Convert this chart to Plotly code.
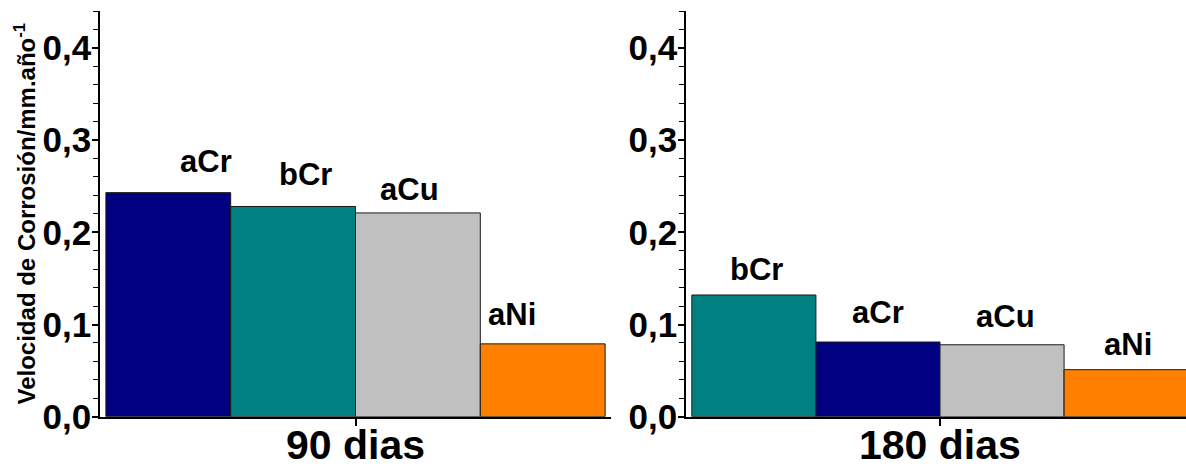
import plotly.graph_objects as go

# Corrosion rate (mm/año) per sample, after each exposure period
samples_90 = ["aCr", "bCr", "aCu", "aNi"]
rate_90 = [0.243, 0.228, 0.221, 0.079]

samples_180 = ["bCr", "aCr", "aCu", "aNi"]
rate_180 = [0.132, 0.081, 0.078, 0.051]

periods = ["90 dias", "180 dias"]
y_ticks = [0.0, 0.1, 0.2, 0.3, 0.4]

colors = {"aCr": "#000080", "bCr": "#008080", "aCu": "#C0C0C0", "aNi": "#FF8000"}

# label anchor points (category offset, value) for each sample name
label_x_90 = [-0.293, -0.098, 0.106, 0.307]
label_y_90 = [0.2765, 0.2624, 0.2461, 0.1104]
label_x_180 = [-0.362, -0.122, 0.128, 0.370]
label_y_180 = [0.1593, 0.1126, 0.1083, 0.0778]

W, H = 1186, 467
FONT = "Liberation Sans, Arial, sans-serif"

fig = go.Figure()

panels = [
    (samples_90, rate_90, periods[0], "x", "y", label_x_90, label_y_90),
    (samples_180, rate_180, periods[1], "x2", "y2", label_x_180, label_y_180),
]

annotations = []
for names, vals, period, xa, ya, lx, ly in panels:
    for i, (name, v) in enumerate(zip(names, vals)):
        fig.add_trace(go.Bar(
            x=[period], y=[v], name=name, xaxis=xa, yaxis=ya,
            marker=dict(color=colors[name], line=dict(color="#1a1a1a", width=1)),
            showlegend=False,
        ))
        annotations.append(dict(
            x=lx[i], y=ly[i], xref=xa, yref=ya, text=name, showarrow=False,
            xanchor="center", yanchor="middle",
            font=dict(family=FONT, size=31, color="black", weight="bold"),
        ))
    # period name under the category tick
    annotations.append(dict(
        x=period, y=(H - 445) / H, xref=xa, yref="paper", text=period,
        showarrow=False, xanchor="center", yanchor="middle",
        font=dict(family=FONT, size=41, color="black", weight="bold"),
    ))

annotations.append(dict(
    x=24 / W, y=(H - 213.5) / H, xref="paper", yref="paper",
    text="Velocidad de Corrosión/mm.año<sup>-1</sup>", textangle=-90,
    showarrow=False, xanchor="center", yanchor="middle",
    font=dict(family=FONT, size=24, color="black", weight="bold"),
))

y_dom = [(H - 416.7) / H, (H - 11) / H]

yaxis_common = dict(
    range=[0, 0.44], tickvals=y_ticks, tickformat=".1f", automargin=False,
    showgrid=False, zeroline=False, showline=True, linecolor="black", linewidth=1.5,
    ticks="outside", ticklen=6, tickwidth=1.5, tickcolor="black",
    ticklabelstandoff=-6,
    minor=dict(dtick=0.02, ticks="outside", ticklen=5, tickwidth=1.2, tickcolor="black"),
    tickfont=dict(family=FONT, size=35, color="black", weight="bold"),
    domain=y_dom,
)
xaxis_common = dict(
    type="category", showgrid=False, zeroline=False, showline=True, automargin=False,
    linecolor="black", linewidth=1.5, showticklabels=False,
    ticks="outside", ticklen=8, tickwidth=1.5, tickcolor="black",
)

fig.update_layout(
    width=W, height=H,
    margin=dict(l=0, r=0, t=0, b=0),
    paper_bgcolor="white", plot_bgcolor="white",
    barmode="group", bargap=0.023, bargroupgap=0,
    separators=",.",
    xaxis=dict(**xaxis_common, domain=[100 / W, 611 / W], range=[-0.5, 0.5], anchor="y"),
    yaxis=dict(**yaxis_common, anchor="x"),
    xaxis2=dict(**xaxis_common, domain=[686 / W, 1.0], range=[-0.5, -0.5 + 500 / 508], anchor="y2"),
    yaxis2=dict(**yaxis_common, anchor="x2"),
    annotations=annotations,
)

fig.write_html("out.html")
